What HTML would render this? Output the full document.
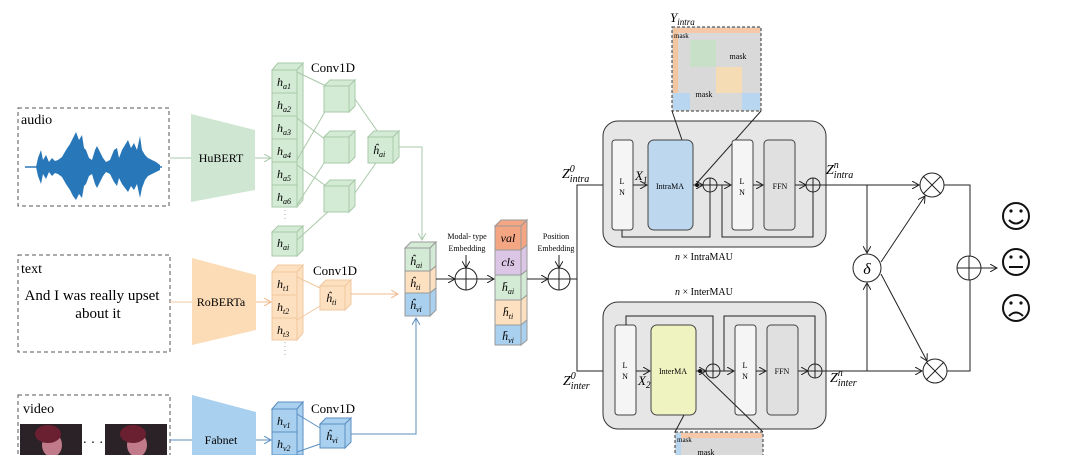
<!DOCTYPE html>
<html><head><meta charset="utf-8"><style>
html,body{margin:0;padding:0;background:#fff;}
svg{display:block;font-family:"Liberation Serif",serif;}
</style></head><body>
<svg width="1072" height="455" viewBox="0 0 1072 455" xmlns="http://www.w3.org/2000/svg">
<defs>
<marker id="ah" markerWidth="8" markerHeight="8" refX="7" refY="4" orient="auto" markerUnits="userSpaceOnUse"><path d="M0,0 L7,4 L0,8" fill="none" stroke="#222" stroke-width="1"/></marker>
<marker id="ag" markerWidth="8" markerHeight="8" refX="7" refY="4" orient="auto" markerUnits="userSpaceOnUse"><path d="M0,0 L7,4 L0,8" fill="none" stroke="#a9c9a9" stroke-width="1"/></marker>
<marker id="ao" markerWidth="8" markerHeight="8" refX="7" refY="4" orient="auto" markerUnits="userSpaceOnUse"><path d="M0,0 L7,4 L0,8" fill="none" stroke="#f0b888" stroke-width="1"/></marker>
<marker id="ab" markerWidth="8" markerHeight="8" refX="7" refY="4" orient="auto" markerUnits="userSpaceOnUse"><path d="M0,0 L7,4 L0,8" fill="none" stroke="#5b8fc0" stroke-width="1"/></marker>
</defs>
<rect width="1072" height="455" fill="#fff"/>

<!-- input boxes -->
<rect x="18" y="108" width="151" height="98" fill="none" stroke="#555" stroke-dasharray="4,3"/>
<text x="21" y="124" font-size="14">audio</text>
<line x1="25" y1="167" x2="162" y2="167" stroke="#2c79b8" stroke-width="1.5"/>
<polygon fill="#2877b8" points="36,167 38,158 41,150 43,160 46,155 49,162 52,158 55,161 58,160 62,157 66,150 70,144 73,138 76,132 79,140 82,135 84,148 86,150 89,158 92,160 95,150 97,146 100,152 103,158 106,162 110,160 114,150 117,148 119,158 122,150 125,145 128,140 131,148 134,143 137,150 140,136 142,150 145,155 148,158 152,160 156,162 160,165 160,170 156,172 152,174 148,176 145,180 142,188 140,198 137,184 134,190 131,186 128,192 125,188 122,184 119,178 117,186 114,182 110,174 106,172 103,176 100,182 97,188 95,184 92,174 89,176 86,184 84,186 82,198 79,194 76,200 73,196 70,190 66,184 62,177 58,174 55,173 52,176 49,172 46,179 43,174 41,184 38,176"/>
<rect x="18" y="255" width="152" height="97" fill="none" stroke="#555" stroke-dasharray="4,3"/>
<text x="21" y="273" font-size="14">text</text>
<text x="92" y="300" font-size="15" text-anchor="middle">And I was really upset</text>
<text x="98" y="318" font-size="15" text-anchor="middle">about it</text>
<rect x="18" y="395" width="152" height="70" fill="none" stroke="#555" stroke-dasharray="4,3"/>
<text x="23" y="413" font-size="14">video</text>
<rect x="20" y="424" width="62" height="31" fill="#2a2226"/><ellipse cx="52" cy="445" rx="10" ry="12" fill="#c07a8a"/><ellipse cx="48" cy="434" rx="13" ry="9" fill="#6a2030"/>
<rect x="105" y="424" width="62" height="31" fill="#2a2226"/><ellipse cx="137" cy="445" rx="10" ry="12" fill="#c07a8a"/><ellipse cx="133" cy="434" rx="13" ry="9" fill="#6a2030"/>
<text x="93" y="447" font-size="14" text-anchor="middle">· · ·</text>

<!-- encoders -->
<line x1="170" y1="158" x2="191" y2="158" stroke="#a9c9a9"/>
<polygon points="191,114 255,130 255,190 191,202" fill="#cfe6d2"/>
<text x="221" y="162" font-size="12" text-anchor="middle">HuBERT</text>
<line x1="255" y1="158" x2="271" y2="158" stroke="#a9c9a9" marker-end="url(#ag)"/>
<line x1="170" y1="302" x2="192" y2="302" stroke="#f0c8a0"/>
<polygon points="192,258 256,275 256,330 192,345" fill="#fbdcb6"/>
<text x="221" y="306" font-size="12" text-anchor="middle">RoBERTa</text>
<line x1="256" y1="302" x2="271" y2="302" stroke="#f0b888" marker-end="url(#ao)"/>
<line x1="170" y1="440" x2="192" y2="440" stroke="#5b8fc0"/>
<polygon points="192,395 256,412 256,455 192,455" fill="#a9d0ef"/>
<text x="221" y="444" font-size="12" text-anchor="middle">Fabnet</text>
<line x1="256" y1="440" x2="271" y2="440" stroke="#5b8fc0" marker-end="url(#ab)"/>

<!-- audio column -->
<g stroke="#a9c9a9" fill="#d3ead5">
<polygon points="272,70 278,63 303,63 297,70"/><polygon points="297,70 303,63 303,200 297,207"/>
<rect x="272" y="70" width="25" height="137"/>
<line x1="272" y1="93" x2="297" y2="93"/><line x1="272" y1="116" x2="297" y2="116"/><line x1="272" y1="139" x2="297" y2="139"/><line x1="272" y1="162" x2="297" y2="162"/><line x1="272" y1="185" x2="297" y2="185"/>
<polygon points="272,232 278,226 303,226 297,232"/><polygon points="297,232 303,226 303,250 297,256"/><rect x="272" y="232" width="25" height="24"/>
</g>
<line x1="285" y1="210" x2="285" y2="222" stroke="#aaa" stroke-dasharray="1,3"/>
<g font-size="12" font-style="italic"><text x="277" y="86">h<tspan font-size="8" dy="3">a1</tspan></text><text x="277" y="109">h<tspan font-size="8" dy="3">a2</tspan></text><text x="277" y="132">h<tspan font-size="8" dy="3">a3</tspan></text><text x="277" y="155">h<tspan font-size="8" dy="3">a4</tspan></text><text x="277" y="178">h<tspan font-size="8" dy="3">a5</tspan></text><text x="277" y="201">h<tspan font-size="8" dy="3">a6</tspan></text><text x="277" y="247">h<tspan font-size="8" dy="3">ai</tspan></text></g>
<text x="311" y="72" font-size="13">Conv1D</text>
<g stroke="#a9c9a9" fill="none">
<line x1="297" y1="72" x2="326" y2="86"/><line x1="297" y1="160" x2="326" y2="110"/>
<line x1="297" y1="118" x2="326" y2="140"/><line x1="297" y1="205" x2="326" y2="160"/>
<line x1="297" y1="165" x2="326" y2="186"/><line x1="297" y1="240" x2="330" y2="210"/>
<line x1="350" y1="92" x2="380" y2="135"/><line x1="350" y1="200" x2="378" y2="160"/>
<polyline points="393,147 422,147 422,240" marker-end="url(#ag)"/>
</g>
<g stroke="#a9c9a9" fill="#d3ead5">
<polygon points="324,86 330,80 355,80 349,86"/><polygon points="349,86 355,80 355,106 349,112"/><rect x="324" y="86" width="25" height="26"/>
<polygon points="324,137 330,131 355,131 349,137"/><polygon points="349,137 355,131 355,157 349,163"/><rect x="324" y="137" width="25" height="26"/>
<polygon points="324,186 330,180 355,180 349,186"/><polygon points="349,186 355,180 355,206 349,212"/><rect x="324" y="186" width="25" height="26"/>
<polygon points="368,137 374,131 399,131 393,137"/><polygon points="393,137 399,131 399,157 393,163"/><rect x="368" y="137" width="25" height="26"/>
</g>
<text x="373" y="154" font-size="12" font-style="italic">ĥ<tspan font-size="8" dy="3">ai</tspan></text>

<!-- text column -->
<g stroke="#f0c8a0" fill="#fde0bf">
<polygon points="272,272 278,265 303,265 297,272"/><polygon points="297,272 303,265 303,333 297,340"/><rect x="272" y="272" width="25" height="68"/>
<line x1="272" y1="295" x2="297" y2="295"/><line x1="272" y1="318" x2="297" y2="318"/>
<polygon points="320,286 326,280 351,280 345,286"/><polygon points="345,286 351,280 351,304 345,310"/><rect x="320" y="286" width="25" height="24"/>
<line x1="297" y1="277" x2="320" y2="288" fill="none"/><line x1="297" y1="320" x2="320" y2="306" fill="none"/>
</g>
<line x1="285" y1="342" x2="285" y2="356" stroke="#aaa" stroke-dasharray="1,3"/>
<g font-size="12" font-style="italic"><text x="277" y="288">h<tspan font-size="8" dy="3">t1</tspan></text><text x="277" y="311">h<tspan font-size="8" dy="3">t2</tspan></text><text x="277" y="334">h<tspan font-size="8" dy="3">t3</tspan></text><text x="326" y="302">ĥ<tspan font-size="8" dy="3">ti</tspan></text></g>
<text x="313" y="275" font-size="13">Conv1D</text>
<line x1="351" y1="294" x2="398" y2="294" stroke="#f0b888" marker-end="url(#ao)"/>

<!-- video column -->
<g stroke="#5b8fc0" fill="#a9d0ef">
<polygon points="272,409 278,402 303,402 297,409"/><polygon points="297,409 303,402 303,455 297,455"/><rect x="272" y="409" width="25" height="50"/>
<line x1="272" y1="432" x2="297" y2="432"/><line x1="272" y1="455" x2="297" y2="455"/>
<polygon points="320,424 326,418 351,418 345,424"/><polygon points="345,424 351,418 351,442 345,448"/><rect x="320" y="424" width="25" height="24"/>
<line x1="297" y1="414" x2="320" y2="428" fill="none"/><line x1="297" y1="452" x2="320" y2="444" fill="none"/>
</g>
<g font-size="12" font-style="italic"><text x="277" y="425">h<tspan font-size="8" dy="3">v1</tspan></text><text x="277" y="448">h<tspan font-size="8" dy="3">v2</tspan></text><text x="326" y="440">ĥ<tspan font-size="8" dy="3">vi</tspan></text></g>
<text x="311" y="413" font-size="13">Conv1D</text>
<polyline points="351,434 416,434 416,318" fill="none" stroke="#5b8fc0" marker-end="url(#ab)"/>

<!-- stack 1 -->
<g stroke="#999">
<polygon points="405,248 411,242 436,242 430,248" fill="#d3ead5"/>
<polygon points="430,248 436,242 436,266 430,271" fill="#d3ead5"/><polygon points="430,271 436,266 436,288 430,293" fill="#fde0bf"/><polygon points="430,293 436,288 436,310 430,316" fill="#a9d0ef"/>
<rect x="405" y="248" width="25" height="23" fill="#d3ead5"/><rect x="405" y="271" width="25" height="22" fill="#fde0bf"/><rect x="405" y="293" width="25" height="23" fill="#a9d0ef"/>
</g>
<g font-size="12" font-style="italic"><text x="410" y="265">ĥ<tspan font-size="8" dy="3">ai</tspan></text><text x="410" y="287">ĥ<tspan font-size="8" dy="3">ti</tspan></text><text x="410" y="309">ĥ<tspan font-size="8" dy="3">vi</tspan></text></g>
<g stroke="#222" fill="none">
<line x1="436" y1="279" x2="455" y2="279" marker-end="url(#ah)"/>
<circle cx="466" cy="279" r="11"/><line x1="455" y1="279" x2="477" y2="279"/><line x1="466" y1="268" x2="466" y2="290"/>
<line x1="466" y1="255" x2="466" y2="268" marker-end="url(#ah)"/>
<line x1="477" y1="279" x2="494" y2="279" marker-end="url(#ah)"/>
</g>
<text x="467" y="239" font-size="8" text-anchor="middle">Modal- type</text>
<text x="467" y="251" font-size="8" text-anchor="middle">Embedding</text>

<!-- stack 2 -->
<g stroke="#999">
<polygon points="495,226 501,220 527,220 521,226" fill="#f4a582"/>
<polygon points="521,226 527,220 527,245 521,250" fill="#f4a582"/><polygon points="521,250 527,245 527,270 521,275" fill="#dcc6e6"/><polygon points="521,275 527,270 527,295 521,300" fill="#d3ead5"/><polygon points="521,300 527,295 527,320 521,325" fill="#fde0bf"/><polygon points="521,325 527,320 527,340 521,345" fill="#a9d0ef"/>
<rect x="495" y="226" width="26" height="24" fill="#f4a582"/><rect x="495" y="250" width="26" height="25" fill="#dcc6e6"/><rect x="495" y="275" width="26" height="25" fill="#d3ead5"/><rect x="495" y="300" width="26" height="25" fill="#fde0bf"/><rect x="495" y="325" width="26" height="20" fill="#a9d0ef"/>
</g>
<g font-size="12" font-style="italic" text-anchor="middle"><text x="508" y="242">val</text><text x="508" y="266">cls</text><text x="508" y="291">h̄<tspan font-size="8" dy="3">ai</tspan></text><text x="508" y="316">h̄<tspan font-size="8" dy="3">ti</tspan></text><text x="508" y="340">h̄<tspan font-size="8" dy="3">vi</tspan></text></g>
<g stroke="#222" fill="none">
<line x1="527" y1="279" x2="548" y2="279" marker-end="url(#ah)"/>
<circle cx="559" cy="279" r="11"/><line x1="548" y1="279" x2="570" y2="279"/><line x1="559" y1="268" x2="559" y2="290"/>
<line x1="559" y1="255" x2="559" y2="268" marker-end="url(#ah)"/>
<line x1="570" y1="279" x2="577" y2="279"/>
<polyline points="611,185 577,185 577,371 613,371"/>
<line x1="590" y1="185" x2="611" y2="185" marker-end="url(#ah)"/>
<line x1="590" y1="371" x2="614" y2="371" marker-end="url(#ah)"/>
</g>
<text x="556" y="239" font-size="8" text-anchor="middle">Position</text>
<text x="556" y="251" font-size="8" text-anchor="middle">Embedding</text>

<!-- mask top -->
<rect x="672" y="27" width="89" height="84" fill="#d9d9d9" stroke="#333" stroke-dasharray="3,2"/>
<rect x="673" y="28" width="87" height="5" fill="#f6c8a8"/><rect x="673" y="28" width="5" height="82" fill="#f2c6a0"/>
<rect x="690" y="40" width="26" height="27" fill="#c8e0c8"/><rect x="716" y="67" width="26" height="26" fill="#f6dcb4"/><rect x="742" y="93" width="18" height="17" fill="#b8d6f0"/><rect x="673" y="93" width="17" height="17" fill="#b8d6f0"/>
<text x="674" y="38" font-size="7">mask</text><text x="738" y="59" font-size="8" text-anchor="middle">mask</text><text x="704" y="97" font-size="8" text-anchor="middle">mask</text>
<text x="670" y="22" font-size="13" font-style="italic">Y<tspan font-size="9" dy="3">intra</tspan></text>

<!-- top block -->
<rect x="603" y="121" width="223" height="126" rx="15" fill="#e6e6e6" stroke="#333"/>
<line x1="682" y1="140" x2="672" y2="111" stroke="#222"/><line x1="697" y1="183" x2="761" y2="111" stroke="#222"/>
<rect x="612" y="140" width="21" height="90" rx="3" fill="#f5f5f5" stroke="#444"/>
<rect x="648" y="140" width="45" height="90" rx="6" fill="#bcd7ee" stroke="#444"/>
<rect x="732" y="140" width="21" height="90" rx="3" fill="#f5f5f5" stroke="#444"/>
<rect x="764" y="140" width="31" height="90" rx="4" fill="#e0e0e0" stroke="#444"/>
<g font-size="8" text-anchor="middle"><text x="622" y="184">L</text><text x="622" y="195">N</text><text x="742" y="184">L</text><text x="742" y="195">N</text><text x="670" y="189">IntraMA</text><text x="780" y="189">FFN</text></g>
<g stroke="#222" fill="none">
<line x1="633" y1="185" x2="647" y2="185" marker-end="url(#ah)"/>
<line x1="693" y1="185" x2="703" y2="185" marker-end="url(#ah)"/>
<circle cx="710" cy="185" r="7"/><line x1="703" y1="185" x2="717" y2="185"/><line x1="710" y1="178" x2="710" y2="192"/>
<line x1="717" y1="185" x2="731" y2="185" marker-end="url(#ah)"/>
<line x1="753" y1="185" x2="763" y2="185" marker-end="url(#ah)"/>
<line x1="795" y1="185" x2="806" y2="185" marker-end="url(#ah)"/>
<circle cx="813" cy="185" r="7"/><line x1="806" y1="185" x2="820" y2="185"/><line x1="813" y1="178" x2="813" y2="192"/>
<polyline points="622,230 622,237 710,237 710,192"/>
<polyline points="722,185 722,237 813,237 813,192"/>
</g>
<circle cx="697" cy="185" r="2" fill="#111"/>
<text x="635" y="180" font-size="13" font-style="italic">X<tspan font-size="9" dy="3">1</tspan></text>
<text x="562" y="178" font-size="14" font-style="italic">Z<tspan font-size="10" dy="-6">0</tspan><tspan font-size="10" dx="-5" dy="10">intra</tspan></text>
<text x="826" y="174" font-size="14" font-style="italic">Z<tspan font-size="10" dy="-6">n</tspan><tspan font-size="10" dx="-5" dy="10">intra</tspan></text>
<text x="675" y="260" font-size="10"><tspan font-style="italic">n</tspan> × IntraMAU</text>
<text x="675" y="295" font-size="10"><tspan font-style="italic">n</tspan> × InterMAU</text>

<!-- bottom block -->
<rect x="603" y="302" width="223" height="127" rx="15" fill="#e6e6e6" stroke="#333"/>
<rect x="615" y="325" width="21" height="90" rx="3" fill="#f5f5f5" stroke="#444"/>
<rect x="651" y="325" width="45" height="90" rx="6" fill="#eef3c0" stroke="#444"/>
<rect x="735" y="325" width="21" height="90" rx="3" fill="#f5f5f5" stroke="#444"/>
<rect x="767" y="325" width="31" height="90" rx="4" fill="#e0e0e0" stroke="#444"/>
<g font-size="8" text-anchor="middle"><text x="625" y="368">L</text><text x="625" y="379">N</text><text x="745" y="368">L</text><text x="745" y="379">N</text><text x="673" y="374">InterMA</text><text x="782" y="374">FFN</text></g>
<g stroke="#222" fill="none">
<line x1="636" y1="371" x2="650" y2="371" marker-end="url(#ah)"/>
<line x1="696" y1="371" x2="706" y2="371" marker-end="url(#ah)"/>
<circle cx="713" cy="371" r="7"/><line x1="706" y1="371" x2="720" y2="371"/><line x1="713" y1="364" x2="713" y2="378"/>
<line x1="720" y1="371" x2="734" y2="371" marker-end="url(#ah)"/>
<line x1="756" y1="371" x2="766" y2="371" marker-end="url(#ah)"/>
<line x1="798" y1="371" x2="808" y2="371" marker-end="url(#ah)"/>
<circle cx="815" cy="371" r="7"/><line x1="808" y1="371" x2="822" y2="371"/><line x1="815" y1="364" x2="815" y2="378"/>
<polyline points="626,325 626,316 713,316 713,364"/>
<polyline points="724,371 724,316 815,316 815,364"/>
<line x1="700" y1="371" x2="763" y2="432"/><line x1="684" y1="415" x2="675" y2="432"/>
</g>
<circle cx="700" cy="371" r="2" fill="#111"/>
<text x="638" y="385" font-size="13" font-style="italic">X<tspan font-size="9" dy="3">2</tspan></text>
<text x="563" y="385" font-size="14" font-style="italic">Z<tspan font-size="10" dy="-6">0</tspan><tspan font-size="10" dx="-5" dy="10">inter</tspan></text>
<text x="830" y="382" font-size="14" font-style="italic">Z<tspan font-size="10" dy="-6">n</tspan><tspan font-size="10" dx="-5" dy="10">inter</tspan></text>

<!-- mask bottom -->
<rect x="675" y="432" width="88" height="30" fill="#d9d9d9" stroke="#333" stroke-dasharray="3,2"/>
<rect x="676" y="433" width="86" height="5" fill="#f6c8a8"/><rect x="676" y="433" width="5" height="22" fill="#b8d6f0"/>
<text x="677" y="442" font-size="7">mask</text><text x="706" y="455" font-size="8" text-anchor="middle">mask</text>

<!-- fusion -->
<g stroke="#222" fill="none">
<line x1="820" y1="185" x2="919" y2="185" marker-end="url(#ah)"/>
<line x1="822" y1="371" x2="922" y2="371" marker-end="url(#ah)"/>
<line x1="867" y1="185" x2="867" y2="253" marker-end="url(#ah)"/>
<line x1="867" y1="371" x2="867" y2="283" marker-end="url(#ah)"/>
<circle cx="867" cy="268" r="14"/>
<circle cx="932" cy="185" r="12"/><line x1="923" y1="176" x2="941" y2="194"/><line x1="941" y1="176" x2="923" y2="194"/>
<circle cx="935" cy="371" r="12"/><line x1="926" y1="362" x2="944" y2="380"/><line x1="944" y1="362" x2="926" y2="380"/>
<line x1="881" y1="262" x2="925" y2="196" marker-end="url(#ah)"/>
<line x1="881" y1="274" x2="927" y2="361" marker-end="url(#ah)"/>
<polyline points="944,185 970,185 970,256"/>
<polyline points="947,371 970,371 970,280"/>
<circle cx="969" cy="268" r="12"/><line x1="957" y1="268" x2="981" y2="268"/><line x1="969" y1="256" x2="969" y2="280"/>
<line x1="981" y1="268" x2="997" y2="268" marker-end="url(#ah)"/>
</g>
<text x="867" y="274" font-size="16" font-style="italic" text-anchor="middle">δ</text>

<!-- faces -->
<g stroke="#111" stroke-width="2" fill="none">
<circle cx="1016" cy="216" r="13"/><circle cx="1016" cy="262" r="13"/><circle cx="1016" cy="308" r="13"/>
<path d="M1009,220 Q1016,227 1023,220"/>
<line x1="1009" y1="267" x2="1023" y2="267"/>
<path d="M1009,316 Q1016,309 1023,316"/>
</g>
<g fill="#111"><circle cx="1011" cy="211" r="1.6"/><circle cx="1021" cy="211" r="1.6"/><circle cx="1011" cy="257" r="1.6"/><circle cx="1021" cy="257" r="1.6"/><circle cx="1011" cy="303" r="1.6"/><circle cx="1021" cy="303" r="1.6"/></g>
</svg>
</body></html>
